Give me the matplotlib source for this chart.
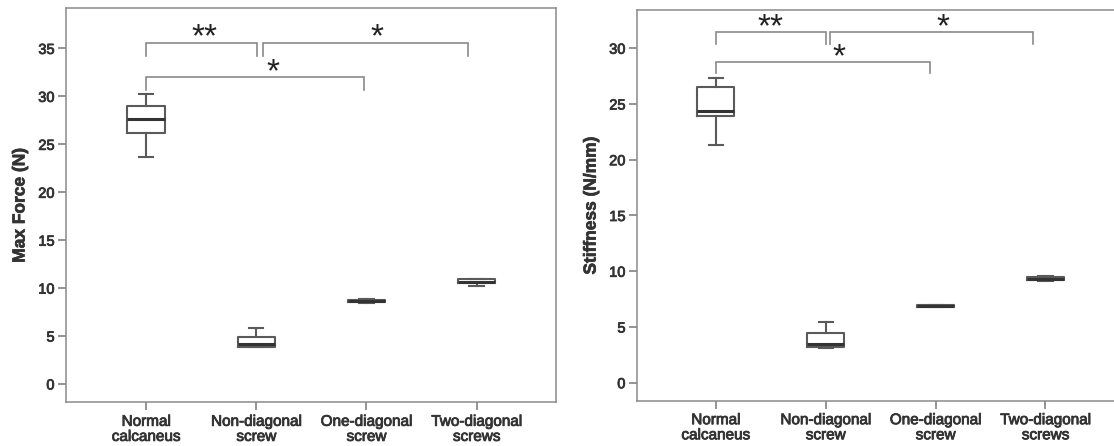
import matplotlib
matplotlib.use("Agg")
import matplotlib.pyplot as plt
import matplotlib.patheffects as pe

plt.rcParams['font.family'] = ['Liberation Sans', 'DejaVu Sans']

groups = ['Normal\ncalcaneus', 'Non-diagonal\nscrew', 'One-diagonal\nscrew', 'Two-diagonal\nscrews']

# box stats: lower whisker, Q1, median, Q3, upper whisker
force_whislo = [23.67, 3.85, 8.40, 10.20]
force_q1 = [26.17, 3.89, 8.52, 10.50]
force_med = [27.60, 4.14, 8.65, 10.67]
force_q3 = [29.02, 4.93, 8.80, 10.90]
force_whishi = [30.20, 5.80, 8.90, 11.00]

stiff_whislo = [21.28, 3.16, 6.80, 9.15]
stiff_q1 = [23.94, 3.22, 6.82, 9.18]
stiff_med = [24.33, 3.43, 6.87, 9.30]
stiff_q3 = [26.54, 4.48, 6.95, 9.50]
stiff_whishi = [27.37, 5.43, 7.00, 9.55]

# significance brackets: (start, end, top y, leg bottom y, label, label x, label y)
force_brackets = [
    (0.0, 1.01, 35.55, 34.25, '**', 0.53, 36.7),
    (1.065, 2.925, 35.55, 34.25, '*', 2.10, 36.7),
    (0.0, 1.975, 32.0, 30.7, '*', 1.15, 33.0),
]
stiff_brackets = [
    (0.0, 1.0, 31.43, 30.36, '**', 0.50, 32.3),
    (1.04, 2.89, 31.43, 30.36, '*', 2.07, 32.3),
    (0.0, 1.945, 28.8, 27.76, '*', 1.12, 29.6),
]


def make_stats(lo, q1, med, q3, hi):
    return [dict(whislo=a, q1=b, med=c, q3=d, whishi=e, fliers=[])
            for a, b, c, d, e in zip(lo, q1, med, q3, hi)]


def draw_panel(ax, stats, brackets, ylabel, ylim, xlim):
    ax.bxp(stats, positions=range(len(stats)), widths=0.34,
           showfliers=False, capwidths=0.13,
           boxprops=dict(color='#5a5a5a', linewidth=1.5),
           whiskerprops=dict(color='#5a5a5a', linewidth=1.5),
           capprops=dict(color='#5a5a5a', linewidth=1.5),
           medianprops=dict(color='#333333', linewidth=2.2))
    for x1, x2, ytop, yleg, label, lx, ly in brackets:
        ax.plot([x1, x1, x2, x2], [yleg, ytop, ytop, yleg],
                color='#8a8a8a', linewidth=1.2, solid_joinstyle='miter')
        ax.annotate(label, (lx, ly), xytext=(0, -10), textcoords='offset points',
                    ha='center', va='baseline', fontsize=24, color='#222222')
    ax.set_xlim(*xlim)
    ax.set_ylim(*ylim)
    ax.set_xticks(range(len(groups)))
    ax.set_xticklabels(groups)
    ax.set_yticks(range(0, int(ylim[1]) + 1, 5))
    ax.tick_params(axis='both', length=6, width=1.1, color='#777777',
                   labelcolor='#333333', labelsize=10.5, pad=2)
    ax.tick_params(axis='x', labelsize=11, pad=3)
    for sp in ax.spines.values():
        sp.set_color('#8a8a8a')
        sp.set_linewidth(1.1)
    ylab = ax.set_ylabel(ylabel, fontsize=12.5, fontweight='bold', color='#333333')
    ylab.set_path_effects([pe.withStroke(linewidth=0.5, foreground='#333333')])
    ax.yaxis.set_label_coords(-0.078, 0.5)


fig = plt.figure(figsize=(11.14, 4.46), dpi=100)
ax1 = fig.add_axes([0.059, 0.098, 0.440, 0.883])
ax2 = fig.add_axes([0.5715, 0.1016, 0.438, 0.876])

draw_panel(ax1, make_stats(force_whislo, force_q1, force_med, force_q3, force_whishi),
           force_brackets, 'Max Force (N)', (-1.91, 39.17), (-0.73, 3.72))
draw_panel(ax2, make_stats(stiff_whislo, stiff_q1, stiff_med, stiff_q3, stiff_whishi),
           stiff_brackets, 'Stiffness (N/mm)', (-1.61, 33.43), (-0.72, 3.72))

fig.canvas.draw()
for ax in (ax1, ax2):
    for lab in ax.get_xticklabels():
        lab.set_linespacing(1.1)
    for lab in ax.get_xticklabels() + ax.get_yticklabels():
        lab.set_path_effects([pe.withStroke(linewidth=0.6, foreground='#333333')])

fig.savefig('out.png', dpi=100)
